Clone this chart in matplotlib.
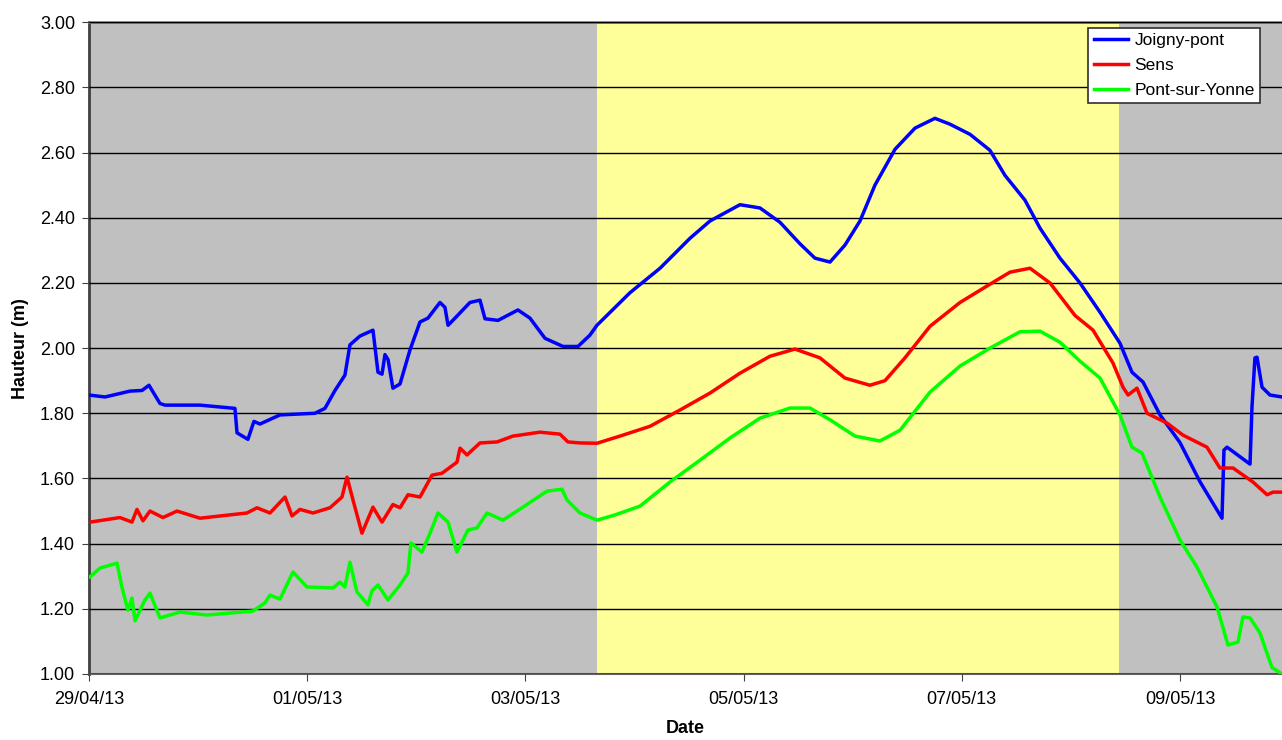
import datetime as dt
import matplotlib
matplotlib.use("Agg")
import matplotlib.pyplot as plt
import matplotlib.dates as mdates

plt.rcParams['font.family'] = ['Liberation Sans', 'DejaVu Sans']

# jours depuis le 29/04/13 00:00, hauteurs en m
jours_joigny = [0.00, 0.147, 0.376, 0.486, 0.550, 0.651, 0.697, 1.017, 1.338, 1.357,
                1.457, 1.512, 1.567, 1.751, 2.071, 2.163, 2.255, 2.346, 2.392, 2.484,
                2.603, 2.649, 2.686, 2.713, 2.741, 2.786, 2.851, 2.942, 3.034, 3.107,
                3.217, 3.263, 3.291, 3.355, 3.492, 3.584, 3.630, 3.749, 3.932, 4.042,
                4.180, 4.345, 4.482, 4.592, 4.656, 4.959, 5.234, 5.509, 5.692, 5.967,
                6.150, 6.334, 6.517, 6.654, 6.792, 6.929, 7.067, 7.204, 7.388, 7.571,
                7.754, 7.892, 8.075, 8.258, 8.396, 8.579, 8.717, 8.900, 9.083, 9.267,
                9.450, 9.560, 9.661, 9.817, 10.000, 10.183, 10.385, 10.403, 10.431, 10.642,
                10.660, 10.687, 10.706, 10.752, 10.825, 10.935]
joigny = [1.856, 1.850, 1.868, 1.870, 1.886, 1.830, 1.825, 1.825, 1.815, 1.740,
          1.720, 1.775, 1.767, 1.795, 1.800, 1.815, 1.870, 1.917, 2.010, 2.037,
          2.055, 1.926, 1.920, 1.980, 1.965, 1.877, 1.890, 1.994, 2.080, 2.092,
          2.140, 2.125, 2.070, 2.092, 2.140, 2.147, 2.090, 2.085, 2.117, 2.092,
          2.030, 2.005, 2.005, 2.040, 2.070, 2.170, 2.245, 2.337, 2.390, 2.440,
          2.430, 2.386, 2.320, 2.276, 2.264, 2.316, 2.390, 2.500, 2.610, 2.675,
          2.705, 2.687, 2.656, 2.607, 2.530, 2.454, 2.368, 2.276, 2.200, 2.110,
          2.015, 1.926, 1.896, 1.795, 1.710, 1.590, 1.478, 1.687, 1.696, 1.644,
          1.820, 1.970, 1.972, 1.880, 1.856, 1.850]

jours_sens = [0.009, 0.284, 0.394, 0.440, 0.495, 0.559, 0.678, 0.807, 1.017, 1.448,
              1.540, 1.659, 1.797, 1.861, 1.934, 2.053, 2.209, 2.319, 2.365, 2.420,
              2.502, 2.603, 2.686, 2.786, 2.851, 2.924, 3.034, 3.144, 3.236, 3.373,
              3.401, 3.465, 3.584, 3.740, 3.886, 4.134, 4.317, 4.390, 4.500, 4.656,
              4.867, 5.142, 5.417, 5.692, 5.967, 6.242, 6.471, 6.700, 6.929, 7.158,
              7.296, 7.479, 7.709, 7.984, 8.258, 8.442, 8.625, 8.808, 9.038, 9.203,
              9.386, 9.478, 9.524, 9.606, 9.698, 9.881, 10.027, 10.247, 10.366, 10.486,
              10.669, 10.798, 10.853, 10.935]
sens = [1.466, 1.480, 1.466, 1.505, 1.470, 1.500, 1.480, 1.500, 1.478, 1.494,
        1.510, 1.494, 1.543, 1.485, 1.505, 1.494, 1.510, 1.543, 1.604, 1.534,
        1.432, 1.512, 1.466, 1.520, 1.510, 1.550, 1.543, 1.610, 1.616, 1.650,
        1.693, 1.672, 1.709, 1.712, 1.730, 1.742, 1.736, 1.712, 1.709, 1.708,
        1.730, 1.760, 1.810, 1.862, 1.923, 1.975, 1.997, 1.970, 1.908, 1.886,
        1.900, 1.970, 2.067, 2.140, 2.196, 2.233, 2.245, 2.200, 2.100, 2.055,
        1.954, 1.880, 1.856, 1.877, 1.800, 1.770, 1.733, 1.696, 1.632, 1.632,
        1.589, 1.550, 1.558, 1.558]

jours_pont = [0.009, 0.101, 0.257, 0.302, 0.357, 0.394, 0.422, 0.513, 0.559, 0.651,
              0.834, 1.082, 1.503, 1.613, 1.659, 1.751, 1.870, 1.998, 2.236, 2.301,
              2.346, 2.392, 2.456, 2.557, 2.594, 2.649, 2.741, 2.851, 2.924, 2.951,
              3.052, 3.126, 3.199, 3.291, 3.373, 3.474, 3.556, 3.648, 3.795, 3.978,
              4.198, 4.336, 4.381, 4.500, 4.656, 4.821, 5.050, 5.325, 5.600, 5.875,
              6.150, 6.425, 6.609, 6.792, 7.021, 7.250, 7.434, 7.709, 7.984, 8.258,
              8.533, 8.717, 8.900, 9.083, 9.267, 9.450, 9.560, 9.652, 9.817, 10.000,
              10.156, 10.339, 10.440, 10.532, 10.577, 10.642, 10.733, 10.843, 10.935]
pont = [1.298, 1.325, 1.340, 1.267, 1.196, 1.233, 1.163, 1.227, 1.248, 1.172,
        1.190, 1.181, 1.193, 1.218, 1.242, 1.230, 1.313, 1.267, 1.264, 1.282,
        1.267, 1.343, 1.252, 1.212, 1.255, 1.273, 1.227, 1.273, 1.310, 1.402,
        1.374, 1.432, 1.494, 1.466, 1.374, 1.442, 1.448, 1.494, 1.472, 1.512,
        1.561, 1.567, 1.534, 1.494, 1.472, 1.488, 1.515, 1.589, 1.656, 1.724,
        1.785, 1.816, 1.816, 1.780, 1.730, 1.715, 1.748, 1.865, 1.945, 2.000,
        2.050, 2.052, 2.018, 1.960, 1.908, 1.795, 1.696, 1.678, 1.543, 1.411,
        1.328, 1.206, 1.089, 1.098, 1.175, 1.172, 1.126, 1.020, 1.000]

debut = dt.datetime(2013, 4, 29)
fin_jours = 10.935
crue = (4.656, 9.44)  # zone jaune
jours_ticks = [0, 2, 4, 6, 8, 10]


def to_dates(jours):
    return [debut + dt.timedelta(days=j) for j in jours]


fig = plt.figure(figsize=(12.82, 7.40), dpi=100)
ax = fig.add_axes([0.0694, 0.0892, 0.9306, 0.8808])
ax.set_facecolor('#C0C0C0')

ax.axvspan(debut + dt.timedelta(days=crue[0]), debut + dt.timedelta(days=crue[1]),
           color='#FFFF99', zorder=0.5, lw=0)

ax.plot(to_dates(jours_joigny), joigny, color='#0000FF', lw=2.5, label='Joigny-pont', zorder=3)
ax.plot(to_dates(jours_sens), sens, color='#FF0000', lw=2.5, label='Sens', zorder=3)
ax.plot(to_dates(jours_pont), pont, color='#00FF00', lw=2.5, label='Pont-sur-Yonne', zorder=3)

ax.set_xlim(debut, debut + dt.timedelta(days=fin_jours))
ax.set_ylim(1.0, 3.0)
ax.set_yticks([1.0 + 0.2 * i for i in range(11)])
ax.yaxis.set_major_formatter(matplotlib.ticker.FormatStrFormatter('%.2f'))
ax.set_xticks(to_dates(jours_ticks))
ax.xaxis.set_major_formatter(mdates.DateFormatter('%d/%m/%y'))

ax.grid(axis='y', color='black', lw=1, zorder=1)
ax.set_axisbelow(False)
for ln in ax.get_ygridlines():
    ln.set_zorder(1)

ax.tick_params(labelsize=13, direction='out', length=5, color='#404040', pad=5)
ax.tick_params(axis='x', pad=7)
ax.set_ylabel('Hauteur (m)', fontsize=13, fontweight='bold', labelpad=8)
ax.set_xlabel('Date', fontsize=13, fontweight='bold', labelpad=9)

ax.spines['right'].set_visible(False)
ax.spines['top'].set_color('#808080')
ax.spines['top'].set_linewidth(2)
ax.spines['left'].set_color('#404040')
ax.spines['left'].set_linewidth(2)
ax.spines['bottom'].set_color('#606060')
ax.spines['bottom'].set_linewidth(1.5)

leg = ax.legend(loc='upper right', bbox_to_anchor=(0.9816, 0.991), fontsize=12.5,
                fancybox=False, framealpha=1, edgecolor='#303030',
                handlelength=2.0, handletextpad=0.35, borderpad=0.3, labelspacing=0.55,
                borderaxespad=0)
leg.get_frame().set_linewidth(1.2)

fig.savefig('out.png', dpi=100)
